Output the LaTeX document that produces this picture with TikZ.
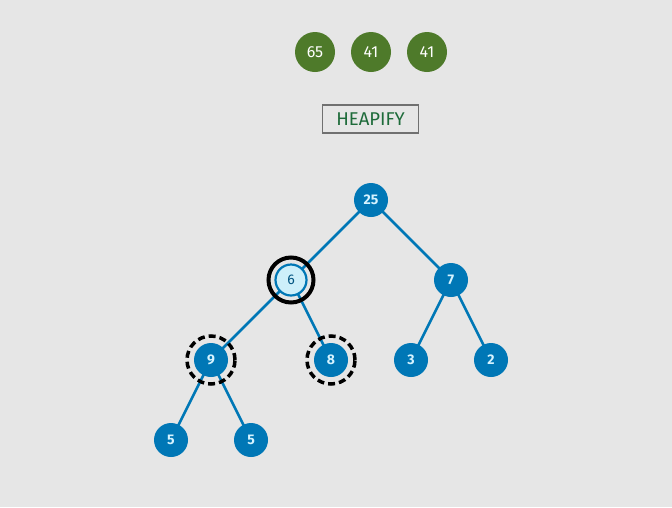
\documentclass[tikz,border=0pt]{standalone}
\usepackage{fontspec}
\setmainfont{Fira Sans}
\definecolor{bg}{HTML}{E6E6E6}
\definecolor{nodeblue}{HTML}{0077B6}
\definecolor{lightblue}{HTML}{CDEFFA}
\definecolor{txtblue}{HTML}{D6F3FF}
\definecolor{heapgreen}{HTML}{4E7A2A}
\definecolor{boxgray}{HTML}{707070}
\definecolor{labgreen}{HTML}{1E6B3A}
\begin{document}
\begin{tikzpicture}[x=1pt,y=-1pt,
  tnode/.style={circle,fill=nodeblue,minimum size=34pt,inner sep=0pt,text=txtblue,font=\fontsize{14}{14}\selectfont\bfseries},
  curnode/.style={circle,fill=lightblue,draw=nodeblue,line width=2.2pt,minimum size=31pt,inner sep=0pt,text=nodeblue!70!black,font=\fontsize{14}{14}\selectfont},
  hnode/.style={circle,fill=heapgreen,minimum size=40pt,inner sep=0pt,text=white,font=\fontsize{16}{16}\selectfont},
  edge/.style={draw=nodeblue,line width=2.5pt},
  solidring/.style={draw=black,line width=4pt},
  dashring/.style={draw=black,line width=3.5pt,dash pattern=on 7pt off 4pt}]
\fill[bg] (0,0) rectangle (672,507);
\useasboundingbox (0,0) rectangle (672,507);
% heap array
\node[hnode] (h1) at (315,52) {65};
\node[hnode] (h2) at (371,52) {41};
\node[hnode] (h3) at (427,52) {41};
\node[draw=boxgray,line width=1.6pt,fill=bg,minimum width=96pt,minimum height=28pt,inner sep=0pt,text=labgreen,font=\fontsize{18.5}{18.5}\selectfont] (heapify) at (370.5,119) {HEAPIFY};
% tree coordinates
\coordinate (c25) at (371,200);
\coordinate (c6) at (291,280);
\coordinate (c7) at (451,280);
\coordinate (c9) at (211,360);
\coordinate (c8) at (331,360);
\coordinate (c3) at (411,360);
\coordinate (c2) at (491,360);
\coordinate (c5a) at (171,440);
\coordinate (c5b) at (251,440);
% edges
\draw[edge] (c25) -- (c6);
\draw[edge] (c25) -- (c7);
\draw[edge] (c6) -- (c9);
\draw[edge] (c6) -- (c8);
\draw[edge] (c7) -- (c3);
\draw[edge] (c7) -- (c2);
\draw[edge] (c9) -- (c5a);
\draw[edge] (c9) -- (c5b);
% rings
\draw[solidring] (c6) circle (22.5pt);
\draw[dashring] (c9) circle (24pt);
\draw[dashring] (c8) circle (24pt);
% nodes
\node[tnode] (n25) at (c25) {25};
\node[curnode] (n6) at (c6) {6};
\node[tnode] (n7) at (c7) {7};
\node[tnode] (n9) at (c9) {9};
\node[tnode] (n8) at (c8) {8};
\node[tnode] (n3) at (c3) {3};
\node[tnode] (n2) at (c2) {2};
\node[tnode] (n5a) at (c5a) {5};
\node[tnode] (n5b) at (c5b) {5};
\end{tikzpicture}
\end{document}
